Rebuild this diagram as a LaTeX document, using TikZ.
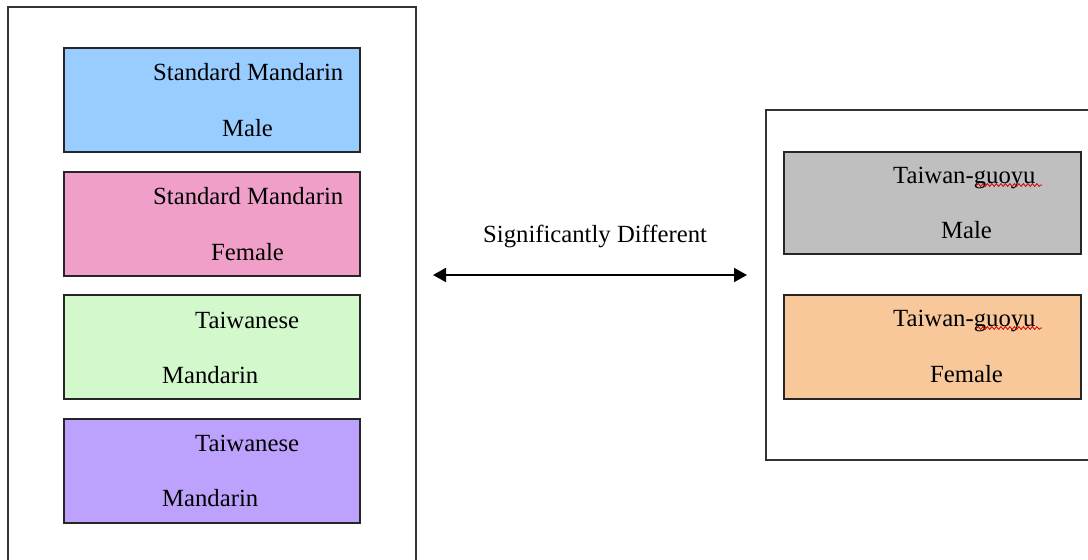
\documentclass[tikz,border=0pt]{standalone}
\usepackage{fontspec}
\setmainfont{Liberation Serif}
\usetikzlibrary{arrows.meta,decorations.pathmorphing}
\definecolor{cblue}{HTML}{99CCFF}
\definecolor{cpink}{HTML}{F0A0C8}
\definecolor{cgreen}{HTML}{D2F8CC}
\definecolor{cpurple}{HTML}{BCA2FC}
\definecolor{cgray}{HTML}{BFBFBF}
\definecolor{corange}{HTML}{F8C89A}
\definecolor{frame}{HTML}{333333}
\tikzset{
  outerbox/.style={draw=frame, line width=1.9pt, fill=white, inner sep=0pt, anchor=north west},
  colbox/.style={draw=black!85, line width=1.8pt, inner sep=0pt, anchor=north west, minimum width=296pt, minimum height=104pt},
  txt/.style={anchor=base west, inner sep=0pt, font=\fontsize{24.7}{28}\selectfont, text=black},
  spell/.style={draw=red!80!black, line width=0.8pt, decorate, decoration={snake, amplitude=1.4pt, segment length=4.5pt}},
  twoarrow/.style={line width=1.8pt, {Triangle[length=13pt,width=14pt]}-{Triangle[length=13pt,width=14pt]}}
}
\begin{document}
\begin{tikzpicture}[x=1pt,y=-1pt]
\useasboundingbox (0,0) rectangle (1088,560);
\clip (0,0) rectangle (1088,560);
% outer frames
\node[outerbox, minimum width=408pt, minimum height=580pt] (left) at (7,6) {};
\node[outerbox, minimum width=340pt, minimum height=350pt] (right) at (765,109) {};
% left colour boxes
\node[colbox, fill=cblue]   (b1) at (63,47)  {};
\node[colbox, fill=cpink]   (b2) at (63,171) {};
\node[colbox, fill=cgreen]  (b3) at (63,294) {};
\node[colbox, fill=cpurple] (b4) at (63,418) {};
% right colour boxes
\node[colbox, fill=cgray,   minimum width=297pt, minimum height=102pt] (r1) at (783,151) {};
\node[colbox, fill=corange, minimum width=297pt, minimum height=104pt] (r2) at (783,294) {};
% texts
\node[txt] (t1a) at (153,80)  {Standard Mandarin};
\node[txt] (t1b) at (222,136) {Male};
\node[txt] (t2a) at (153,204) {Standard Mandarin};
\node[txt] (t2b) at (211,260) {Female};
\node[txt] (t3a) at (195,328) {Taiwanese};
\node[txt] (t3b) at (162,383) {Mandarin};
\node[txt] (t4a) at (195,451) {Taiwanese};
\node[txt] (t4b) at (162,506) {Mandarin};
\node[txt] (u1a) at (893,183) {Taiwan-guoyu};
\node[txt] (u1b) at (941,238) {Male};
\node[txt] (u2a) at (893,326) {Taiwan-guoyu};
\node[txt] (u2b) at (930,382) {Female};
\node[txt] (sig) at (483,242) {Significantly Different};
% spell-check underlines
\coordinate (s1a) at (977,185); \coordinate (s1b) at (1042,185);
\coordinate (s2a) at (977,328); \coordinate (s2b) at (1042,328);
\draw[spell] (s1a) -- (s1b);
\draw[spell] (s2a) -- (s2b);
% double arrow
\coordinate (al) at (433,275);
\coordinate (ar) at (747,275);
\draw[twoarrow] (al) -- (ar);
\end{tikzpicture}
\end{document}
